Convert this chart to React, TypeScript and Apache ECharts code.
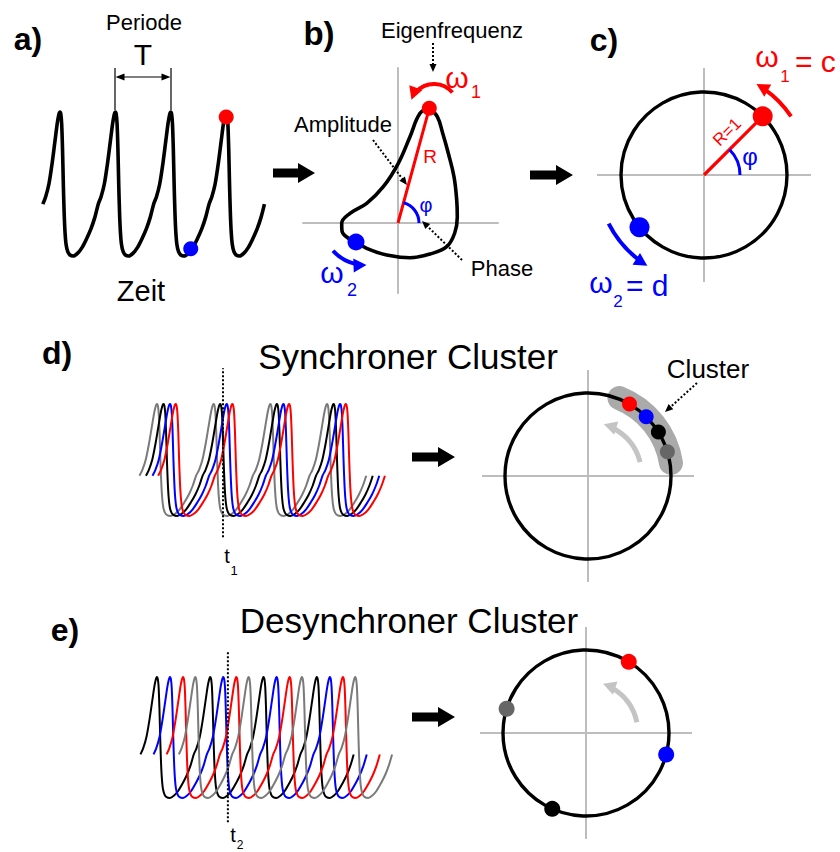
import React, { useEffect, useRef } from "react";
import * as echarts from "echarts";

const W = 840;
const H = 852;
const FONT = '"Liberation Sans", Arial, Helvetica, sans-serif';
const RED = "#ff0000";
const BLUE = "#0000ff";
const GRAY_TRACE = "#7a7a7a";
const GRAY_DOT = "#666666";
const AXIS_GRAY = "#bdbdbd";

// One oscillation period of the spike wave, starting at the peak: phase (0..1) and normalised level
const cyclePhase = [0, 0.015, 0.03, 0.045, 0.06, 0.075, 0.09, 0.11, 0.14, 0.18, 0.24, 0.32, 0.4, 0.48, 0.56, 0.63, 0.69, 0.74, 0.8, 0.86, 0.91, 0.95, 0.975, 0.99];
const cycleLevel = [1.0, 0.985, 0.92, 0.75, 0.5, 0.3, 0.17, 0.08, 0.03, 0.007, 0.0, 0.02, 0.06, 0.12, 0.19, 0.27, 0.36, 0.41, 0.5, 0.65, 0.8, 0.92, 0.975, 0.995];

// a) single oscillator: four spikes, marked points in (period, level)
const singleSpikes = 4;
const singleRed = [3.0, 0.965];
const singleBlue = [2.36, 0.05];

// b) limit cycle in the phase plane
const limitX = [0.313, 0.22, 0.12, 0.003, -0.147, -0.313, -0.48, -0.563, -0.56, -0.5, -0.42, -0.313, -0.113, 0.12, 0.32, 0.487, 0.567, 0.593, 0.587, 0.56, 0.503, 0.447, 0.393, 0.313];
const limitY = [1.147, 1.097, 0.863, 0.597, 0.363, 0.197, 0.097, -0.003, -0.08, -0.15, -0.19, -0.253, -0.32, -0.347, -0.31, -0.237, -0.1, 0.06, 0.23, 0.463, 0.697, 0.897, 1.063, 1.147];
const limitRed = [0.313, 1.147];
const limitBlue = [-0.42, -0.19];

// c) phases on the unit circle (degrees)
const unitPhaseRed = 45;
const unitPhaseBlue = 219;

// d) synchronous cluster: grey, black, blue, red
const syncColors = [GRAY_TRACE, "#000000", BLUE, RED];
const syncDotColors = [GRAY_DOT, "#000000", BLUE, RED];
const syncOffsets = [0, 0.115, 0.23, 0.33];
const syncPhases = [17, 32, 45.5, 60];
const syncT1 = 1.164;
const clusterSpan = [9, 68];

// e) desynchronised cluster: black, blue, red, grey
const desyncColors = ["#000000", BLUE, RED, GRAY_TRACE];
const desyncDotColors = ["#000000", BLUE, RED, GRAY_DOT];
const desyncOffsets = [0, 0.245, 0.49, 0.72];
const desyncPhases = [246, 345, 59, 163];
const desyncT2 = 1.33;

// pixel frames of the time panels: where t = 0 sits, px per period, y of level 1 and 0
const frameA = { t0: 60, period: 55.4, top: 112, bottom: 256, tMin: -0.4, tMax: 3.8 };
const frameD = { t0: 157, period: 56.7, top: 404, bottom: 516, tMin: -0.5, tMax: 4.5 };
const frameE = { t0: 157, period: 53.3, top: 677, bottom: 798, tMin: -0.5, tMax: 4.5 };
// phase plane: origin in px, px per unit
const plane = { ox: 398, oy: 223, scale: 100, xMin: -0.95, xMax: 1.0, yMin: -0.7, yMax: 1.55 };
// circle panels
const circC = { cx: 704, cy: 175, r: 83, reach: 107 };
const circD = { cx: 588, cy: 476, r: 83, reach: 106 };
const circE = { cx: 586, cy: 733, r: 83, reach: 106 };

const DEG = Math.PI / 180;
const TRACE_START = 0.69;
const TRACE_END = 0.69;

function trace(offset: number, spikes: number) {
  const pts: number[][] = [];
  const start = offset - 1 + TRACE_START - 1e-6;
  const end = offset + spikes - 1 + TRACE_END + 1e-6;
  for (let k = -1; k <= spikes; k++) {
    for (let i = 0; i < cyclePhase.length; i++) {
      const t = offset + k + cyclePhase[i];
      if (t >= start && t <= end) pts.push([t, cycleLevel[i]]);
    }
  }
  return pts;
}

function gridOf(f: any) {
  return {
    left: f.t0 + f.tMin * f.period,
    width: (f.tMax - f.tMin) * f.period,
    top: f.top,
    height: f.bottom - f.top,
  };
}

function label(text: string, x: number, y: number, size: number, color = "#000", weight = "normal", align = "center", rotation = 0) {
  return {
    type: "text",
    x,
    y,
    rotation,
    z: 20,
    style: {
      text,
      fill: color,
      font: `${weight} ${size}px ${FONT}`,
      textAlign: align,
      textVerticalAlign: "middle",
    },
  };
}

function headPts(tx: number, ty: number, dx: number, dy: number, len: number, width: number) {
  const n = Math.hypot(dx, dy);
  const ux = dx / n;
  const uy = dy / n;
  const bx = tx - ux * len;
  const by = ty - uy * len;
  return [
    [tx, ty],
    [bx - (uy * width) / 2, by + (ux * width) / 2],
    [bx + (uy * width) / 2, by - (ux * width) / 2],
  ];
}

function arcArrow(cx: number, cy: number, r: number, a0: number, a1: number, color: string, lw: number, hl: number, hw: number) {
  const dir = a1 > a0 ? 1 : -1;
  const tipX = cx + r * Math.cos(a1 * DEG);
  const tipY = cy - r * Math.sin(a1 * DEG);
  const tx = -Math.sin(a1 * DEG) * dir;
  const ty = -Math.cos(a1 * DEG) * dir;
  const aEnd = a1 - (dir * (hl * 0.75)) / r / DEG;
  return [
    {
      type: "arc",
      z: 10,
      shape: { cx, cy, r, startAngle: -a0 * DEG, endAngle: -aEnd * DEG, clockwise: dir < 0 },
      style: { stroke: color, lineWidth: lw, fill: "none" },
    },
    { type: "polygon", z: 10, shape: { points: headPts(tipX, tipY, tx, ty, hl, hw) }, style: { fill: color } },
  ];
}

function plainArc(cx: number, cy: number, r: number, a0: number, a1: number, color: string, lw: number, z = 10, cap = "butt") {
  return {
    type: "arc",
    z,
    shape: { cx, cy, r, startAngle: -a1 * DEG, endAngle: -a0 * DEG, clockwise: true },
    style: { stroke: color, lineWidth: lw, fill: "none", lineCap: cap },
  };
}

function blockArrow(x0: number, x1: number, y: number) {
  const sh = 4.5;
  const hh = 10;
  const hl = 17;
  return {
    type: "polygon",
    z: 10,
    shape: {
      points: [
        [x0, y - sh],
        [x1 - hl, y - sh],
        [x1 - hl, y - hh],
        [x1, y],
        [x1 - hl, y + hh],
        [x1 - hl, y + sh],
        [x0, y + sh],
      ],
    },
    style: { fill: "#000" },
  };
}

function dottedArrow(x0: number, y0: number, x1: number, y1: number) {
  const hl = 8;
  const hw = 7;
  const dx = x1 - x0;
  const dy = y1 - y0;
  const L = Math.hypot(dx, dy);
  return [
    {
      type: "line",
      z: 10,
      shape: { x1: x0, y1: y0, x2: x1 - (dx / L) * hl * 0.8, y2: y1 - (dy / L) * hl * 0.8 },
      style: { stroke: "#000", lineWidth: 2, lineDash: [2, 2] },
    },
    { type: "polygon", z: 10, shape: { points: headPts(x1, y1, dx, dy, hl, hw) }, style: { fill: "#000" } },
  ];
}

function thinLine(x1: number, y1: number, x2: number, y2: number) {
  return { type: "line", z: 10, shape: { x1, y1, x2, y2 }, style: { stroke: "#000", lineWidth: 1.2 } };
}

function buildOption() {
  const timeAxis = (gridIndex: number, f: any) => ({ gridIndex, type: "value", min: f.tMin, max: f.tMax, show: false });
  const levelAxis = (gridIndex: number) => ({ gridIndex, type: "value", min: 0, max: 1, show: false });

  const circles = [circC, circD, circE];
  const polar: any[] = [];
  const angleAxis: any[] = [];
  const radiusAxis: any[] = [];
  circles.forEach((c, i) => {
    // frame polar: the grey cross
    polar.push({ center: [c.cx, c.cy], radius: c.reach });
    angleAxis.push({
      polarIndex: 2 * i,
      type: "value",
      min: 0,
      max: 360,
      interval: 90,
      startAngle: 0,
      clockwise: false,
      axisLine: { show: false },
      axisTick: { show: false },
      axisLabel: { show: false },
      splitLine: { show: true, lineStyle: { color: AXIS_GRAY, width: 2 } },
      z: 0,
    });
    radiusAxis.push({ polarIndex: 2 * i, type: "value", min: 0, max: 1, show: false });
    // unit polar: the circle R = 1
    polar.push({ center: [c.cx, c.cy], radius: c.r });
    angleAxis.push({
      polarIndex: 2 * i + 1,
      type: "value",
      min: 0,
      max: 360,
      startAngle: 0,
      clockwise: false,
      axisLine: { show: true, lineStyle: { color: "#000", width: 3.4 } },
      axisTick: { show: false },
      axisLabel: { show: false },
      splitLine: { show: false },
      z: 3,
    });
    radiusAxis.push({ polarIndex: 2 * i + 1, type: "value", min: 0, max: 1, show: false });
  });

  const dot = (extra: any, data: any[], color: string, size: number) => ({
    type: "scatter",
    ...extra,
    data: [data],
    symbol: "circle",
    symbolSize: size,
    itemStyle: { color, opacity: 1 },
    z: 6,
    clip: false,
    silent: true,
  });

  const series: any[] = [];

  // a)
  series.push({
    type: "line",
    xAxisIndex: 0,
    yAxisIndex: 0,
    data: trace(0, singleSpikes),
    smooth: 0.3,
    showSymbol: false,
    clip: false,
    lineStyle: { color: "#000", width: 3.6 },
  });
  series.push(dot({ xAxisIndex: 0, yAxisIndex: 0 }, singleRed, RED, 15));
  series.push(dot({ xAxisIndex: 0, yAxisIndex: 0 }, singleBlue, BLUE, 15));

  // b)
  series.push({
    type: "line",
    xAxisIndex: 1,
    yAxisIndex: 1,
    data: limitX.map((x, i) => [x, limitY[i]]),
    smooth: 0.4,
    showSymbol: false,
    clip: false,
    lineStyle: { color: "#000", width: 3.6 },
  });
  series.push({
    type: "line",
    xAxisIndex: 1,
    yAxisIndex: 1,
    data: [[0, 0], limitRed],
    showSymbol: false,
    clip: false,
    lineStyle: { color: RED, width: 3 },
  });
  series.push(dot({ xAxisIndex: 1, yAxisIndex: 1 }, limitRed, RED, 15));
  series.push(dot({ xAxisIndex: 1, yAxisIndex: 1 }, limitBlue, BLUE, 17));

  // c)
  series.push({
    type: "line",
    coordinateSystem: "polar",
    polarIndex: 1,
    data: [[0, unitPhaseRed], [1, unitPhaseRed]],
    showSymbol: false,
    clip: false,
    lineStyle: { color: RED, width: 3.2 },
    z: 4,
  });
  series.push(dot({ coordinateSystem: "polar", polarIndex: 1 }, [1, unitPhaseRed], RED, 20));
  series.push(dot({ coordinateSystem: "polar", polarIndex: 1 }, [1, unitPhaseBlue], BLUE, 20));

  // d)
  syncOffsets.forEach((off, i) => {
    series.push({
      type: "line",
      xAxisIndex: 2,
      yAxisIndex: 2,
      data: trace(off, 4),
      smooth: 0.3,
      showSymbol: false,
      clip: false,
      lineStyle: { color: syncColors[i], width: 2 },
    });
  });
  series.push({
    type: "line",
    xAxisIndex: 2,
    yAxisIndex: 2,
    data: [[syncT1, -0.19], [syncT1, 1.32]],
    showSymbol: false,
    clip: false,
    lineStyle: { color: "#000", width: 2, type: [2, 2] },
    z: 5,
  });
  syncPhases.forEach((p, i) => {
    series.push(dot({ coordinateSystem: "polar", polarIndex: 3 }, [1, p], syncDotColors[i], 15));
  });

  // e)
  desyncOffsets.forEach((off, i) => {
    series.push({
      type: "line",
      xAxisIndex: 3,
      yAxisIndex: 3,
      data: trace(off, 4),
      smooth: 0.3,
      showSymbol: false,
      clip: false,
      lineStyle: { color: desyncColors[i], width: 2 },
    });
  });
  series.push({
    type: "line",
    xAxisIndex: 3,
    yAxisIndex: 3,
    data: [[desyncT2, -0.2], [desyncT2, 1.21]],
    showSymbol: false,
    clip: false,
    lineStyle: { color: "#000", width: 2, type: [2, 2] },
    z: 5,
  });
  desyncPhases.forEach((p, i) => {
    series.push(dot({ coordinateSystem: "polar", polarIndex: 5 }, [1, p], desyncDotColors[i], 16));
  });

  const phiB = Math.atan2(limitRed[1], limitRed[0]) / DEG;

  const graphics: any[] = [
    // grey band highlighting the cluster, under the circle
    plainArc(circD.cx, circD.cy, circD.r + 1, clusterSpan[0], clusterSpan[1], "#aaaaaa", 24, 1, "round"),
    // panel letters
    label("a)", 28, 39, 32, "#000", "bold"),
    label("b)", 319, 33, 33, "#000", "bold"),
    label("c)", 604, 40, 32, "#000", "bold"),
    label("d)", 57, 353, 32, "#000", "bold"),
    label("e)", 65, 630, 32, "#000", "bold"),
    // a)
    label("Periode", 144, 22, 22),
    label("T", 143, 54, 30),
    label("Zeit", 141, 291, 29),
    thinLine(115, 68, 115, 110),
    thinLine(171, 68, 171, 110),
    thinLine(121, 77, 165, 77),
    { type: "polygon", z: 10, shape: { points: headPts(115.5, 77, -1, 0, 9, 7) }, style: { fill: "#000" } },
    { type: "polygon", z: 10, shape: { points: headPts(170.5, 77, 1, 0, 9, 7) }, style: { fill: "#000" } },
    blockArrow(273, 315, 173),
    // b)
    label("Eigenfrequenz", 452, 30, 22),
    label("Amplitude", 343, 124, 22),
    label("Phase", 502, 268, 22),
    label("R", 430, 156, 19, RED),
    label("\u03c6", 426, 205, 20, BLUE),
    label("\u03c9", 457, 77, 30, RED),
    label("1", 476, 92, 18, RED),
    label("\u03c9", 332, 272, 30, BLUE),
    label("2", 352, 290, 18, BLUE),
    ...dottedArrow(433, 43, 433, 72),
    ...dottedArrow(373, 140, 407, 185),
    ...dottedArrow(462, 260, 422, 221),
    plainArc(plane.ox, plane.oy, 21, 0, phiB, BLUE, 3),
    ...arcArrow(434, 108, 24, 40, 160, RED, 4, 13, 14),
    ...arcArrow(365, 222, 43, 222, 272, BLUE, 4, 13, 14),
    blockArrow(530, 573, 175),
    // c)
    label("\u03c9", 767, 56, 30, RED),
    label("1", 785, 76, 17, RED),
    label("= c", 795, 61, 30, RED, "normal", "left"),
    label("\u03c9", 601, 282, 30, BLUE),
    label("2", 618, 301, 17, BLUE),
    label("= d", 626, 285, 30, BLUE, "normal", "left"),
    label("R=1", 727, 132, 17, RED, "normal", "center", 45 * DEG),
    label("\u03c6", 750, 156, 24, BLUE),
    plainArc(circC.cx, circC.cy, 36, 0, unitPhaseRed, BLUE, 3),
    ...arcArrow(circC.cx, circC.cy, 105, 34, 60, RED, 4, 13, 14),
    ...arcArrow(circC.cx, circC.cy, 107, 207, 238, BLUE, 4, 13, 14),
    // d)
    label("Synchroner Cluster", 408, 356, 35),
    label("Cluster", 708, 369, 26),
    label("t", 227, 556, 20),
    label("1", 234, 570, 13),
    ...dottedArrow(697, 383, 665, 412),
    ...arcArrow(circD.cx, circD.cy, 54, 15, 73, "#c4c4c4", 5, 13, 14),
    blockArrow(412, 455, 457),
    // e)
    label("Desynchroner Cluster", 409, 620, 35),
    label("t", 233, 835, 20),
    label("2", 240, 845, 12),
    ...arcArrow(circE.cx, circE.cy, 52, 12, 71, "#c4c4c4", 5, 13, 14),
    blockArrow(412, 455, 717),
  ];

  return {
    animation: false,
    backgroundColor: "#ffffff",
    grid: [
      gridOf(frameA),
      {
        left: plane.ox + plane.xMin * plane.scale,
        width: (plane.xMax - plane.xMin) * plane.scale,
        top: plane.oy - plane.yMax * plane.scale,
        height: (plane.yMax - plane.yMin) * plane.scale,
      },
      gridOf(frameD),
      gridOf(frameE),
    ],
    xAxis: [
      timeAxis(0, frameA),
      {
        gridIndex: 1,
        type: "value",
        min: plane.xMin,
        max: plane.xMax,
        axisLine: { show: true, onZero: true, lineStyle: { color: AXIS_GRAY, width: 2 } },
        axisTick: { show: false },
        axisLabel: { show: false },
        splitLine: { show: false },
      },
      timeAxis(2, frameD),
      timeAxis(3, frameE),
    ],
    yAxis: [
      levelAxis(0),
      {
        gridIndex: 1,
        type: "value",
        min: plane.yMin,
        max: plane.yMax,
        axisLine: { show: true, onZero: true, lineStyle: { color: AXIS_GRAY, width: 2 } },
        axisTick: { show: false },
        axisLabel: { show: false },
        splitLine: { show: false },
      },
      levelAxis(2),
      levelAxis(3),
    ],
    polar,
    angleAxis,
    radiusAxis,
    series,
    graphic: { elements: graphics },
  };
}

export default function App() {
  const ref = useRef<HTMLDivElement>(null);
  useEffect(() => {
    if (!ref.current) return;
    const chart = echarts.init(ref.current, null, { renderer: "svg" });
    chart.setOption(buildOption() as any);
    return () => chart.dispose();
  }, []);
  return (
    <div
      ref={ref}
      style={{ position: "fixed", left: 0, top: 0, width: W, height: H, background: "#fff" }}
    />
  );
}
